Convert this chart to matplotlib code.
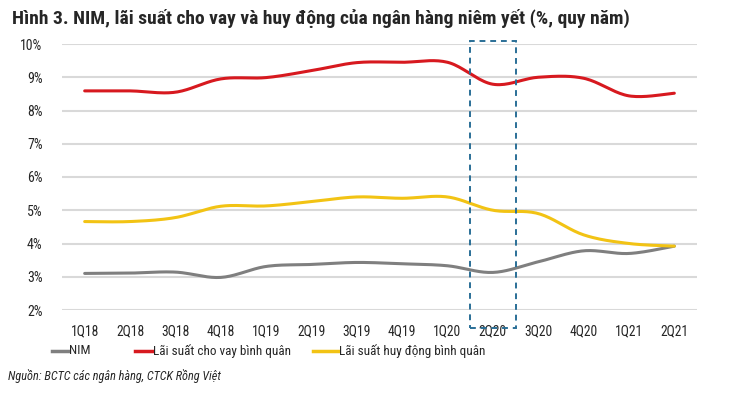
import numpy as np
import matplotlib
matplotlib.use("Agg")
import matplotlib.pyplot as plt
from matplotlib.lines import Line2D
from matplotlib.patches import Rectangle

plt.rcParams['font.family'] = ['Roboto Condensed', 'Archivo Narrow', 'Roboto', 'DejaVu Sans']

quarters = ["1Q18", "2Q18", "3Q18", "4Q18", "1Q19", "2Q19", "3Q19", "4Q19",
            "1Q20", "2Q20", "3Q20", "4Q20", "1Q21", "2Q21"]
nim = [3.10, 3.11, 3.14, 2.98, 3.31, 3.37, 3.43, 3.39, 3.33, 3.13, 3.45, 3.78, 3.70, 3.92]
lending = [8.59, 8.59, 8.55, 8.95, 8.99, 9.20, 9.44, 9.45, 9.45, 8.79, 9.00, 8.97, 8.44, 8.52]
deposit = [4.66, 4.66, 4.78, 5.12, 5.13, 5.26, 5.40, 5.36, 5.40, 5.00, 4.90, 4.26, 4.00, 3.92]
yticks = [2, 3, 4, 5, 6, 7, 8, 9, 10]
series_names = ["NIM", "Lãi suất cho vay bình quân", "Lãi suất huy động bình quân"]
colors = ["#7f7f7f", "#d7191f", "#f2c314"]


def smooth(y, n=20):
    # Catmull-Rom spline through points (Excel-like smoothing)
    y = np.asarray(y, float)
    x = np.arange(len(y), dtype=float)
    P = np.column_stack([x, y])
    P = np.vstack([P[0], P, P[-1]])
    out = []
    for i in range(1, len(P) - 2):
        p0, p1, p2, p3 = P[i - 1], P[i], P[i + 1], P[i + 2]
        t = np.linspace(0, 1, n, endpoint=False)[:, None]
        c = 0.5 * ((2 * p1) + (-p0 + p2) * t + (2 * p0 - 5 * p1 + 4 * p2 - p3) * t**2
                   + (-p0 + 3 * p1 - 3 * p2 + p3) * t**3)
        out.append(c)
    out.append(P[-2][None, :])
    out = np.vstack(out)
    return out[:, 0], out[:, 1]


W, H = 733, 396
fig = plt.figure(figsize=(W / 100, H / 100), dpi=100)
ax = fig.add_axes([62 / W, 1 - 310 / H, 635 / W, 266 / H])

for s, c in zip([nim, lending, deposit], colors):
    xs, ys = smooth(s)
    ax.plot(xs, ys, color=c, lw=2.2, solid_capstyle='round', zorder=3)

ax.set_xlim(-0.5, len(quarters) - 0.5)
ax.set_ylim(2, 10)
ax.set_yticks(yticks)
ax.set_yticklabels([f"{v}%" for v in yticks], fontsize=10, color="#262626")
ax.set_xticks(range(len(quarters)))
ax.set_xticklabels(quarters, fontsize=9.8, color="#262626")
ax.tick_params(length=0, pad=10)
ax.tick_params(axis='y', pad=14)
for sp in ax.spines.values():
    sp.set_visible(False)
ax.grid(axis='y', color="#d9d9d9", lw=1.5)
ax.set_axisbelow(True)

# dashed highlight box around 2Q20
idx = quarters.index("2Q20")
rect = Rectangle((idx - 0.5, 1.45), 1.0, 10.1 - 1.45, fill=False, ec="#2a6f97",
                 lw=1.4, ls=(0, (3, 2.5)), clip_on=False, zorder=4)
ax.add_patch(rect)

fig.text(12 / W, 1 - 18 / H,
         "Hình 3. NIM, lãi suất cho vay và huy động của ngân hàng niêm yết (%, quy năm)",
         fontsize=14, fontweight='bold', color="#262626", va='center', ha='left')

# legend (manual placement)
leg_y = 1 - 351 / H
leg_items = [(52, 68), (135, 152), (313, 338)]
for (x0, x1), c, name in zip(leg_items, colors, series_names):
    fig.add_artist(Line2D([x0 / W, x1 / W], [leg_y, leg_y], color=c, lw=2.5,
                          transform=fig.transFigure))
    fig.text((x1 + 1) / W, leg_y, name, fontsize=9.5, color="#262626",
             va='center', ha='left')

fig.text(8 / W, 1 - 376 / H, "Nguồn: BCTC các ngân hàng, CTCK Rồng Việt",
         fontsize=8.8, style='italic', color="#262626", va='center', ha='left')

fig.savefig("out.png", dpi=100)
